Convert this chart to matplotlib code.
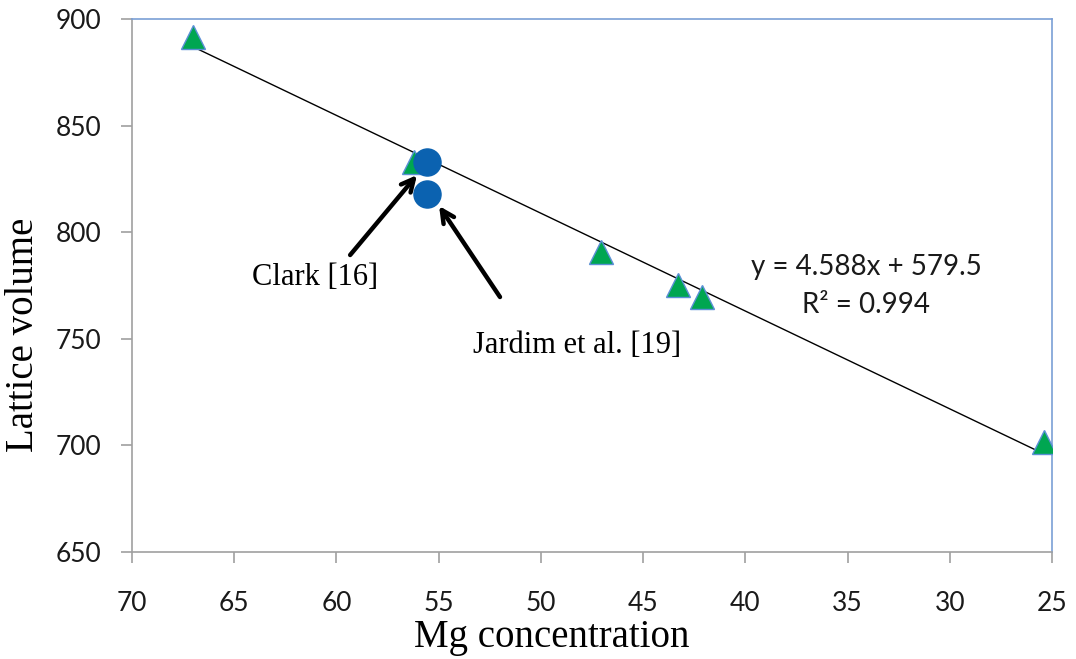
import matplotlib
matplotlib.use("Agg")
import matplotlib.pyplot as plt
import numpy as np

# Data
tri_x = [67.0, 56.2, 47.07, 43.27, 42.1, 25.38]
tri_y = [891.6, 832.9, 790.9, 775.2, 769.5, 701.7]
lit_x = [55.57, 55.57]
lit_y = [832.9, 817.9]
slope, intercept = 4.588, 579.5
x_ticks = [70, 65, 60, 55, 50, 45, 40, 35, 30, 25]
y_ticks = [650, 700, 750, 800, 850, 900]

W, H = 1076, 659
fig = plt.figure(figsize=(W / 100, H / 100), dpi=100)
ax = fig.add_axes([132 / W, (H - 552) / H, (1052 - 132) / W, (552 - 19) / H])

# trend line
lx = np.array([max(tri_x), min(tri_x)])
ax.plot(lx, slope * lx + intercept, color="black", lw=1.0, zorder=2)

ax.plot(tri_x, tri_y, linestyle="none", marker="^", markersize=17,
        markerfacecolor="#00A651", markeredgecolor="#5B8FD6", markeredgewidth=1.0, zorder=3)
ax.plot(lit_x, lit_y, linestyle="none", marker="o", markersize=19.5,
        markerfacecolor="#0B62B0", markeredgecolor="#0B62B0", zorder=4)

ax.set_xlim(70, 25)
ax.set_ylim(650, 900)
ax.set_xticks(x_ticks)
ax.set_yticks(y_ticks)
ax.set_xticklabels([str(t) for t in x_ticks], family="Lato", fontsize=19, color="#1a1a1a")
ax.set_yticklabels([str(t) for t in y_ticks], family="Lato", fontsize=19, color="#1a1a1a")
ax.tick_params(axis="x", direction="out", length=8, width=1.2, color="#a0a0a0", pad=20)
ax.tick_params(axis="y", direction="out", length=8, width=1.2, color="#a0a0a0", pad=14)

for s in ["left", "bottom"]:
    ax.spines[s].set_color("#a0a0a0")
    ax.spines[s].set_linewidth(1.2)
for s in ["top", "right"]:
    ax.spines[s].set_color("#7A9FD6")
    ax.spines[s].set_linewidth(1.2)

fig.text(552 / W, 1 - 637 / H, "Mg concentration", family="Liberation Serif",
         fontsize=28, ha="center", va="center")
fig.text(24 / W, 1 - 335 / H, "Lattice volume", family="Liberation Serif",
         fontsize=28, ha="center", va="center", rotation=90)

# equation
ax.text(866 / W, 1 - 267 / H, "y = 4.588x + 579.5", transform=fig.transFigure,
        family="Lato", fontsize=20, ha="center", va="center", color="#1a1a1a")
ax.text(866 / W, 1 - 305 / H, "R² = 0.994", transform=fig.transFigure,
        family="Lato", fontsize=20, ha="center", va="center", color="#1a1a1a")

arrowprops = dict(arrowstyle="->,head_length=0.9,head_width=0.45", color="black", lw=3.2,
                  shrinkA=0, shrinkB=0)
ax.annotate("", xy=(56.06, 826.8), xytext=(59.33, 789.3), arrowprops=arrowprops, zorder=5)
ax.annotate("", xy=(54.98, 812.3), xytext=(52.0, 769.6), arrowprops=arrowprops, zorder=5)

fig.text(252 / W, 1 - 285 / H, "Clark [16]", family="Liberation Serif", fontsize=22,
         ha="left", va="baseline")
fig.text(473 / W, 1 - 353 / H, "Jardim et al. [19]", family="Liberation Serif", fontsize=22,
         ha="left", va="baseline")

fig.savefig("out.png", dpi=100)
